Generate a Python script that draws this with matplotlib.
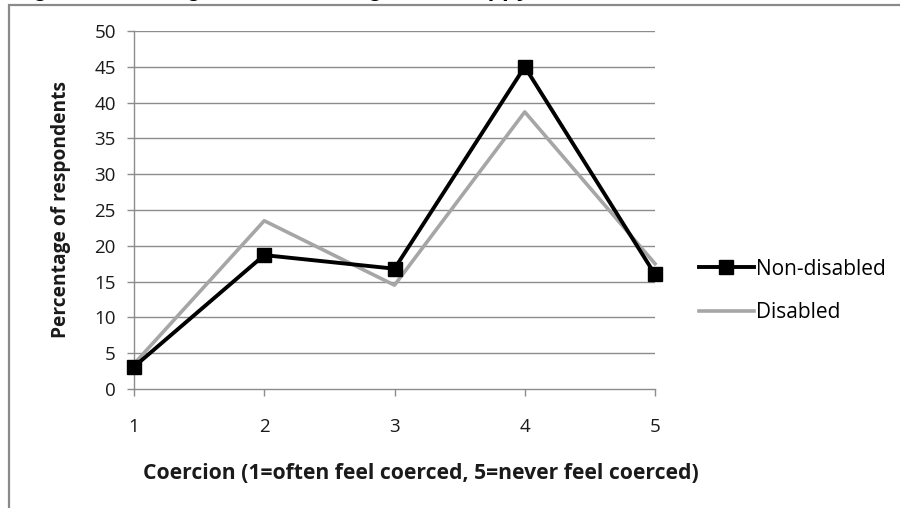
import matplotlib
matplotlib.use("Agg")
import matplotlib.pyplot as plt
from matplotlib.patches import Rectangle

# coercion scale (1 = often feel coerced, 5 = never feel coerced)
coercion = [1, 2, 3, 4, 5]
non_disabled = [3.1, 18.7, 16.8, 45.0, 16.0]
disabled = [3.5, 23.5, 14.5, 38.7, 17.5]
y_ticks = [0, 5, 10, 15, 20, 25, 30, 35, 40, 45, 50]

title = "Figure 4: Feeling coerced among the unhappy"
x_label = "Coercion (1=often feel coerced, 5=never feel coerced)"
y_label = "Percentage of respondents"

plt.rcParams['font.family'] = ['Open Sans', 'DejaVu Sans']

fig = plt.figure(figsize=(9, 5.08), dpi=100)
fig.patch.set_facecolor('white')

# cut-off caption above the chart box (only a sliver shows)
fig.text(12 / 900, 1.0 + 4.3 / 508, title, fontsize=17, fontweight='bold',
         family='Liberation Sans', va='baseline', ha='left', color='black')

# chart frame, running off the right and bottom edges
fig.add_artist(Rectangle((9 / 900, -0.2), 1.2, 1.2 - 5 / 508,
                         transform=fig.transFigure, fill=False,
                         edgecolor='#8a8a8a', linewidth=1.6))

ax = fig.add_axes([134 / 900, 1 - 389 / 508, 521 / 900, 358 / 508])
ax.set_xlim(1, 5)
ax.set_ylim(0, 50)
ax.set_yticks(y_ticks)
ax.set_xticks(coercion)

for y in y_ticks[1:]:
    ax.axhline(y, color='#8c8c8c', linewidth=1.0, zorder=1)

ax.plot(coercion, disabled, color='#a6a6a6', linewidth=2.6, label='Disabled',
        zorder=3, clip_on=False)
ax.plot(coercion, non_disabled, color='black', linewidth=2.8, marker='s',
        markersize=10, label='Non-disabled', zorder=4, clip_on=False)

for side in ['top', 'right']:
    ax.spines[side].set_visible(False)
for side in ['left', 'bottom']:
    ax.spines[side].set_color('#8c8c8c')
    ax.spines[side].set_linewidth(1.0)

ax.tick_params(axis='both', colors='#8c8c8c', labelcolor='#1a1a1a',
               labelsize=13.5, length=5, width=1.0)
ax.tick_params(axis='x', pad=16)
ax.tick_params(axis='y', pad=8)

ax.set_xlabel(x_label, fontsize=15.2, fontweight='bold', color='#1a1a1a')
ax.xaxis.set_label_coords(0.551, -0.236)
ax.xaxis.label.set_va('center')
ax.set_ylabel(y_label, fontsize=13.8, fontweight='bold', labelpad=17,
              color='#1a1a1a')

handles, labels = ax.get_legend_handles_labels()
ax.legend(handles[::-1], labels[::-1], loc='center left',
          bbox_to_anchor=(691 / 900, 1 - 291 / 508),
          bbox_transform=fig.transFigure, frameon=False, fontsize=15,
          handlelength=2.6, handletextpad=0.1, labelspacing=1.1,
          borderaxespad=0)

fig.savefig('out.png', dpi=100, facecolor='white')
